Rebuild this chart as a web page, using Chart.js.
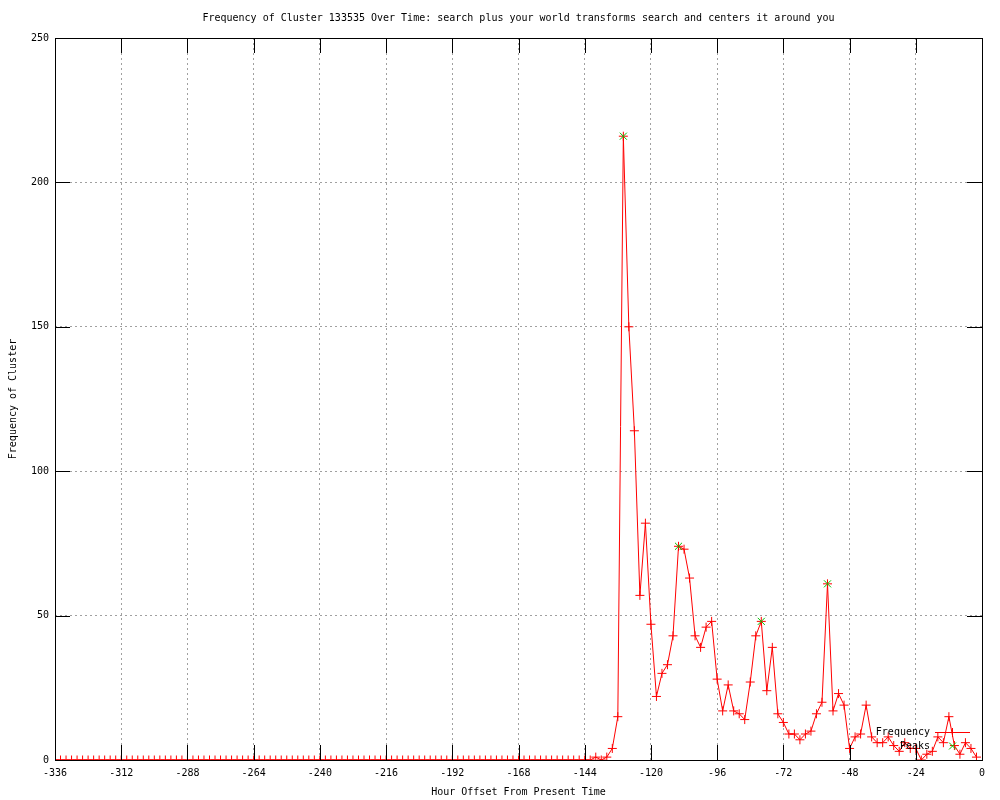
<!DOCTYPE html>
<html>
<head>
<meta charset="utf-8">
<script src="https://cdn.jsdelivr.net/npm/chart.js@4/dist/chart.umd.min.js"></script>
<style>
  html, body { margin: 0; padding: 0; background: #fff; }
  #wrap { width: 1000px; height: 800px; }
</style>
</head>
<body>
<div id="wrap"><canvas id="Cluster-Chart"></canvas></div>
<script>
const hours = [
  -336, -334, -332, -330, -328, -326, -324, -322, -320, -318, -316, -314,
  -312, -310, -308, -306, -304, -302, -300, -298, -296, -294, -292, -290,
  -288, -286, -284, -282, -280, -278, -276, -274, -272, -270, -268, -266,
  -264, -262, -260, -258, -256, -254, -252, -250, -248, -246, -244, -242,
  -240, -238, -236, -234, -232, -230, -228, -226, -224, -222, -220, -218,
  -216, -214, -212, -210, -208, -206, -204, -202, -200, -198, -196, -194,
  -192, -190, -188, -186, -184, -182, -180, -178, -176, -174, -172, -170,
  -168, -166, -164, -162, -160, -158, -156, -154, -152, -150, -148, -146,
  -144, -142, -140, -138, -136, -134, -132, -130, -128, -126, -124, -122,
  -120, -118, -116, -114, -112, -110, -108, -106, -104, -102, -100, -98,
  -96, -94, -92, -90, -88, -86, -84, -82, -80, -78, -76, -74,
  -72, -70, -68, -66, -64, -62, -60, -58, -56, -54, -52, -50,
  -48, -46, -44, -42, -40, -38, -36, -34, -32, -30, -28, -26,
  -24, -22, -20, -18, -16, -14, -12, -10, -8, -6, -4, -2
];

const frequency = [
  0, 0, 0, 0, 0, 0, 0, 0, 0, 0, 0, 0, 0, 0, 0, 0, 0, 0, 0, 0, 0, 0, 0, 0,
  0, 0, 0, 0, 0, 0, 0, 0, 0, 0, 0, 0, 0, 0, 0, 0, 0, 0, 0, 0, 0, 0, 0, 0,
  0, 0, 0, 0, 0, 0, 0, 0, 0, 0, 0, 0, 0, 0, 0, 0, 0, 0, 0, 0, 0, 0, 0, 0,
  0, 0, 0, 0, 0, 0, 0, 0, 0, 0, 0, 0, 0, 0, 0, 0, 0, 0, 0, 0, 0, 0, 0, 0,
  0, 0, 1, 0, 1, 4, 15, 216, 150, 114,
  57, 82, 47, 22, 30, 33, 43, 74, 73, 63,
  43, 39, 46, 48, 28, 17, 26, 17, 16, 14,
  27, 43, 48, 24, 39, 16, 13, 9, 9, 7,
  9, 10, 16, 20, 61, 17, 23, 19, 4, 8,
  9, 19, 8, 6, 6, 8, 5, 3, 6, 4,
  4, 0, 2, 3, 8, 6, 15, 5, 2, 6, 4, 1
];

const peakHours = [-130, -110, -80, -56];
const peakValues = [216, 74, 48, 61];

const xTicks = [-336, -312, -288, -264, -240, -216, -192, -168, -144, -120, -96, -72, -48, -24, 0];
const yTicks = [0, 50, 100, 150, 200, 250];

const chartTitle = "Frequency of Cluster 133535 Over Time: search plus your world transforms search and centers it around you";

const FONT = "'DejaVu Sans Mono', 'Liberation Mono', monospace";

// gnuplot style: title over the plot, ticks pointing inward on all four sides, box and key
const gnuplotFrame = {
  id: "gnuplotFrame",
  afterDraw(chart) {
    const ctx = chart.ctx;
    const a = chart.chartArea;
    const xs = chart.scales.x, ys = chart.scales.y;
    ctx.save();
    ctx.font = "10px " + FONT;
    ctx.fillStyle = "#000";
    ctx.textAlign = "center";
    ctx.textBaseline = "middle";
    ctx.fillText(chartTitle, (a.left + a.right) / 2, 18);

    ctx.strokeStyle = "#000";
    ctx.lineWidth = 1;
    ctx.beginPath();
    xTicks.forEach(t => {
      const px = Math.round(xs.getPixelForValue(t)) + 0.5;
      ctx.moveTo(px, a.bottom); ctx.lineTo(px, a.bottom - 15);
      ctx.moveTo(px, a.top); ctx.lineTo(px, a.top + 15);
    });
    yTicks.forEach(t => {
      const py = Math.round(ys.getPixelForValue(t)) + 0.5;
      ctx.moveTo(a.left, py); ctx.lineTo(a.left + 15, py);
      ctx.moveTo(a.right, py); ctx.lineTo(a.right - 15, py);
    });
    ctx.stroke();
    ctx.strokeRect(Math.round(a.left) + 0.5, Math.round(a.top) + 0.5,
      Math.round(a.right - a.left), Math.round(a.bottom - a.top));

    // key, bottom right inside the plot
    const kx = a.right - 52, ky = a.bottom - 28;
    ctx.textAlign = "right";
    ctx.fillText("Frequency", kx, ky);
    ctx.fillText("Peaks", kx, ky + 14);
    ctx.strokeStyle = "#ff0000";
    ctx.beginPath();
    ctx.moveTo(kx + 5, ky + 0.5); ctx.lineTo(kx + 40, ky + 0.5);
    ctx.moveTo(kx + 22.5, ky - 4); ctx.lineTo(kx + 22.5, ky + 5);
    ctx.stroke();
    ctx.strokeStyle = "#00c000";
    ctx.beginPath();
    ctx.moveTo(kx + 19, ky + 10.5); ctx.lineTo(kx + 26, ky + 17.5);
    ctx.moveTo(kx + 26, ky + 10.5); ctx.lineTo(kx + 19, ky + 17.5);
    ctx.stroke();
    ctx.restore();
  }
};

const data = {
  labels: hours,
  datasets: [
    {
      label: "Peaks",
      data: peakHours.map((h, i) => ({ x: h, y: peakValues[i] })),
      showLine: false,
      pointStyle: "crossRot",
      pointRadius: 5,
      pointBorderColor: "#00c000",
      pointBorderWidth: 1,
      order: 0
    },
    {
      label: "Frequency",
      data: hours.map((h, i) => ({ x: h, y: frequency[i] })),
      borderColor: "#ff0000",
      borderWidth: 1,
      tension: 0,
      pointStyle: "cross",
      pointRadius: 4.5,
      pointBorderColor: "#ff0000",
      pointBorderWidth: 1,
      order: 1
    }
  ]
};

const gridColor = ctx => {
  const v = ctx.tick ? ctx.tick.value : null;
  return (v === ctx.scale.min || v === ctx.scale.max) ? "rgba(0,0,0,0)" : "#a0a0a0";
};

const config = {
  type: "line",
  data: data,
  options: {
    responsive: true,
    maintainAspectRatio: false,
    animation: false,
    layout: { padding: { left: 0, right: 18, top: 38, bottom: 0 } },
    plugins: {
      legend: { display: false },
      tooltip: { enabled: false },
      title: { display: false }
    },
    scales: {
      x: {
        type: "linear",
        min: -336,
        max: 0,
        afterBuildTicks: s => { s.ticks = xTicks.map(v => ({ value: v })); },
        afterFit: s => { s.height = 40; },
        ticks: {
          color: "#000",
          padding: 7,
          maxRotation: 0,
          autoSkip: false,
          font: { family: FONT, size: 10 },
          callback: v => String(v)
        },
        grid: { color: gridColor, drawTicks: false, tickLength: 0 },
        border: { display: false, dash: [2, 3] },
        title: {
          display: true,
          text: "Hour Offset From Present Time",
          color: "#000",
          font: { family: FONT, size: 10 },
          padding: { top: 0, bottom: 2 }
        }
      },
      y: {
        min: 0,
        max: 250,
        afterBuildTicks: s => { s.ticks = yTicks.map(v => ({ value: v })); },
        afterFit: s => { s.width = 55; },
        ticks: {
          color: "#000",
          padding: 6,
          font: { family: FONT, size: 10 }
        },
        grid: { color: gridColor, drawTicks: false, tickLength: 0 },
        border: { display: false, dash: [2, 3] },
        title: {
          display: true,
          text: "Frequency of Cluster",
          color: "#000",
          font: { family: FONT, size: 10 },
          padding: { top: 7, bottom: 0 }
        }
      }
    }
  },
  plugins: [gnuplotFrame]
};

let myChart = new Chart(document.getElementById("Cluster-Chart"), config);
</script>
</body>
</html>
